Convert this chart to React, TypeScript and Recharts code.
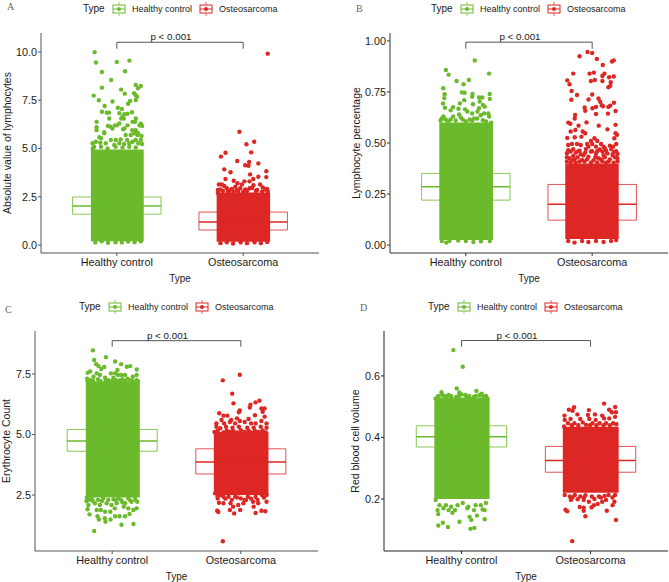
import { ScatterChart, Scatter, XAxis, YAxis, ReferenceArea, ReferenceLine } from "recharts";

const GREEN = "#6BBA2B";
const RED = "#DC2725";
const FONT = "'Liberation Sans', Arial, sans-serif";

const categories = ["Healthy control", "Osteosarcoma"];
const groupPositions = [1, 2];

// The middle of each cloud is too dense to read dot by dot, so it is a filled
// range [jitterLow, jitterHigh, valueLow, valueHigh]; the dots are those that can be told apart.
const healthyDenseA = [0.795, 1.213, 0.2, 4.95];
const sarcomaDenseA = [1.79, 2.213, 0.17, 2.72];
const healthyBoxA = [1.6, 2.02, 2.49];
const sarcomaBoxA = [0.78, 1.19, 1.71];
const healthyA = [
  [0.824, 9.98], [0.835, 9.45], [1.0, 9.48], [1.1, 9.55], [0.882, 8.96], [1.065, 9.0], [0.955, 8.55], [1.15, 8.29],
  [1.19, 8.24], [1.168, 8.12], [0.882, 8.15], [1.034, 8.05], [1.063, 7.84], [1.136, 7.86], [1.15, 7.76], [1.16, 7.68],
  [0.817, 7.74], [0.858, 7.5], [0.966, 7.43], [1.15, 7.51], [1.105, 7.46], [1.089, 7.32], [0.903, 7.2], [1.008, 7.11],
  [1.04, 7.05], [0.882, 6.9], [0.92, 6.85], [0.938, 6.86], [1.02, 6.83], [1.12, 6.88], [1.085, 6.8], [1.06, 6.78],
  [1.045, 6.65], [1.055, 6.55], [1.035, 6.55], [0.94, 6.55], [1.15, 6.55], [0.84, 6.38], [1.125, 6.38], [1.145, 6.38],
  [1.19, 6.28], [1.18, 6.2], [1.2, 6.17], [1.02, 6.3], [1.0, 6.2], [0.985, 6.2], [0.93, 6.17], [0.95, 6.13],
  [0.84, 6.1], [0.84, 5.95], [0.965, 6.03], [1.05, 6.0], [1.085, 6.2], [1.122, 5.95], [1.15, 5.95], [1.168, 5.79],
  [0.9, 5.84], [0.875, 5.53], [1.06, 6.04], [0.862, 5.58], [0.9, 5.79], [0.953, 5.44], [0.992, 5.44], [1.03, 5.47],
  [1.07, 5.7], [1.082, 5.44], [1.11, 5.7], [1.137, 5.79], [1.163, 5.7], [1.195, 5.65], [1.15, 5.44], [0.808, 5.27],
  [0.835, 5.35], [0.869, 5.3], [0.913, 5.27], [0.98, 5.18], [1.02, 5.27], [1.058, 5.23], [1.098, 5.27], [1.125, 5.35],
  [1.17, 5.27], [1.19, 5.44], [0.82, 5.09], [0.875, 5.09], [0.927, 5.0], [0.99, 5.09], [1.045, 5.05], [1.098, 5.09],
  [1.15, 5.05], [1.2, 5.23], [0.81, 5.0], [0.83, 0.14], [0.88, 0.2], [0.93, 0.12], [0.99, 0.15], [1.04, 0.14],
  [1.09, 0.18], [1.14, 0.15], [1.19, 0.2],
];
const sarcomaA = [
  [2.194, 9.91], [1.97, 5.87], [2.026, 5.22], [2.087, 5.35], [1.824, 4.58], [1.86, 4.78], [2.063, 4.8], [1.953, 4.35],
  [2.12, 4.23], [2.047, 4.3], [2.016, 4.13], [2.042, 4.11], [1.85, 3.92], [1.9, 3.77], [2.183, 3.82], [2.055, 3.66],
  [2.183, 3.52], [2.12, 3.54], [1.86, 3.42], [2.08, 3.42], [1.925, 3.33], [2.01, 3.3], [2.05, 3.3], [1.808, 3.14],
  [1.832, 3.14], [1.85, 3.06], [1.955, 3.2], [1.99, 3.14], [1.937, 3.02], [1.977, 2.94], [2.016, 2.88], [2.05, 2.94],
  [2.081, 3.1], [2.134, 3.14], [2.155, 2.99], [2.176, 2.88], [2.195, 2.76], [1.871, 2.94], [1.82, 2.88], [1.924, 2.76],
  [1.8, 2.7], [2.1, 2.8], [1.89, 2.8], [1.96, 2.78], [1.82, 0.1], [1.87, 0.15], [1.92, 0.08], [1.98, 0.14],
  [2.03, 0.1], [2.09, 0.15], [2.14, 0.1], [2.19, 0.16], [1.8, 2.85], [1.84, 2.8], [1.88, 2.78], [1.91, 2.9],
  [1.95, 2.85], [2.0, 2.75], [2.03, 2.8], [2.07, 2.95], [2.11, 2.85], [2.15, 2.78], [2.19, 2.9],
];

const healthyDenseB = [0.79, 1.215, 0.025, 0.6];
const sarcomaDenseB = [1.787, 2.21, 0.03, 0.4];
const healthyBoxB = [0.22, 0.286, 0.351];
const sarcomaBoxB = [0.122, 0.2, 0.297];
const healthyB = [
  [1.071, 0.904], [0.842, 0.858], [0.864, 0.835], [1.184, 0.84], [0.927, 0.804], [1.024, 0.809], [0.982, 0.788],
  [0.821, 0.768], [0.969, 0.748], [0.99, 0.746], [1.053, 0.74], [0.832, 0.739], [1.189, 0.74], [0.83, 0.72],
  [1.105, 0.723], [1.131, 0.723], [1.05, 0.727], [0.987, 0.71], [0.953, 0.694], [0.82, 0.694], [1.19, 0.716],
  [1.11, 0.703], [1.057, 0.69], [1.135, 0.686], [1.15, 0.678], [0.835, 0.673], [0.88, 0.66], [0.899, 0.675],
  [0.942, 0.668], [0.994, 0.665], [1.012, 0.654], [1.105, 0.67], [1.092, 0.654], [1.145, 0.645], [1.178, 0.645],
  [0.947, 0.64], [0.9, 0.63], [1.05, 0.645], [0.823, 0.63], [1.065, 0.62], [1.118, 0.636], [1.185, 0.63],
  [0.88, 0.615], [0.975, 0.615], [1.03, 0.615], [0.84, 0.615], [0.8, 0.61], [1.2, 0.6], [1.135, 0.612],
  [0.81, 0.02], [0.845, 0.012], [0.87, 0.02], [0.94, 0.022], [1.0, 0.02], [1.06, 0.015], [1.12, 0.018], [1.19, 0.02],
  [0.81, 0.62], [0.86, 0.605], [0.92, 0.61], [0.96, 0.625], [1.0, 0.605], [1.05, 0.61], [1.09, 0.62], [1.16, 0.605],
];
const sarcomaB = [
  [1.963, 0.946], [2.0, 0.941], [1.9, 0.925], [2.037, 0.912], [2.171, 0.905], [2.157, 0.899], [2.084, 0.882],
  [2.097, 0.84], [1.85, 0.84], [1.979, 0.84], [2.013, 0.845], [2.081, 0.828], [2.134, 0.822], [2.171, 0.826],
  [1.803, 0.807], [1.99, 0.804], [2.021, 0.809], [2.081, 0.804], [1.821, 0.788], [2.147, 0.798], [2.128, 0.773],
  [2.143, 0.78], [1.837, 0.755], [1.88, 0.735], [2.0, 0.738], [1.835, 0.712], [1.971, 0.713], [2.05, 0.718],
  [2.063, 0.702], [2.076, 0.685], [1.94, 0.674], [1.945, 0.658], [2.002, 0.67], [2.03, 0.677], [2.085, 0.68],
  [2.128, 0.677], [2.143, 0.683], [2.172, 0.697], [2.185, 0.657], [2.03, 0.642], [2.125, 0.644], [1.865, 0.637],
  [1.862, 0.62], [1.811, 0.6], [1.827, 0.594], [1.892, 0.585], [1.955, 0.601], [2.052, 0.585], [2.121, 0.567],
  [2.185, 0.589], [1.83, 0.556], [1.867, 0.564], [1.925, 0.556], [1.945, 0.548], [2.185, 0.548], [2.197, 0.54],
  [1.803, 0.525], [1.915, 0.531], [1.862, 0.528], [2.175, 0.523], [2.018, 0.523], [1.99, 0.51], [2.04, 0.51],
  [2.07, 0.495], [2.0, 0.495], [1.96, 0.495], [1.84, 0.495], [1.88, 0.495], [1.81, 0.49], [1.91, 0.49], [2.14, 0.487],
  [2.19, 0.495], [2.165, 0.482], [2.09, 0.482], [1.97, 0.482], [2.03, 0.482], [1.81, 0.465], [1.85, 0.47], [1.9, 0.462],
  [1.95, 0.47], [2.0, 0.46], [2.06, 0.468], [2.11, 0.462], [2.15, 0.47], [2.19, 0.46], [1.83, 0.458], [1.87, 0.453],
  [1.91, 0.445], [1.945, 0.453], [1.99, 0.458], [2.03, 0.446], [2.08, 0.458], [2.12, 0.449], [2.16, 0.441],
  [2.2, 0.446], [1.82, 0.425], [1.86, 0.42], [1.92, 0.417], [1.97, 0.433], [2.05, 0.425], [2.1, 0.43], [2.14, 0.42],
  [2.2, 0.425], [1.8, 0.409], [1.87, 0.403], [1.94, 0.409], [1.99, 0.403], [2.11, 0.403], [2.17, 0.403], [1.85, 0.436],
  [1.81, 0.02], [1.86, 0.012], [1.92, 0.02], [1.97, 0.015], [2.03, 0.02], [2.09, 0.015], [2.15, 0.02], [2.19, 0.025],
  [1.8, 0.43], [1.84, 0.415], [1.885, 0.43], [1.93, 0.44], [1.96, 0.42], [2.01, 0.415], [2.025, 0.43], [2.07, 0.42],
  [2.09, 0.44], [2.13, 0.41], [2.18, 0.43], [2.2, 0.41], [1.83, 0.405], [1.9, 0.41], [2.04, 0.405], [2.08, 0.41],
  [1.8, 0.45], [1.89, 0.46], [2.04, 0.46], [2.1, 0.475], [2.17, 0.455],
];

const healthyDenseC = [0.795, 1.215, 2.4, 7.2];
const sarcomaDenseC = [1.79, 2.215, 2.5, 5.1];
const healthyBoxC = [4.31, 4.73, 5.21];
const sarcomaBoxC = [3.37, 3.86, 4.41];
const healthyC = [
  [0.85, 8.48], [0.86, 8.08], [0.951, 8.2], [1.023, 8.02], [1.07, 7.91], [1.114, 7.8], [1.14, 7.83], [0.876, 7.91],
  [0.894, 7.83], [0.938, 7.79], [0.915, 7.71], [1.191, 7.69], [0.809, 7.55], [0.829, 7.61], [1.041, 7.67], [1.023, 7.53],
  [0.99, 7.53], [0.88, 7.53], [1.07, 7.46], [1.1, 7.46], [1.19, 7.46], [1.16, 7.39], [0.805, 7.31], [0.855, 7.39],
  [0.905, 7.46], [0.945, 7.35], [0.97, 7.25], [1.01, 7.35], [1.045, 7.46], [1.12, 7.31], [1.19, 7.25], [0.83, 7.25],
  [0.89, 7.29], [1.03, 7.25], [1.08, 7.29], [1.16, 7.2], [1.185, 7.15], [0.86, 1.01], [1.165, 1.3], [1.072, 1.27],
  [0.886, 1.62], [0.897, 1.49], [0.943, 1.54], [0.948, 1.4], [0.987, 1.49], [1.023, 1.62], [1.057, 1.62], [1.1, 1.62],
  [1.135, 1.72], [0.808, 1.91], [0.824, 1.7], [0.88, 1.88], [0.912, 1.88], [0.945, 1.81], [0.985, 1.81], [1.02, 1.95],
  [1.09, 2.02], [1.125, 1.95], [1.19, 1.95], [1.165, 1.88], [0.815, 2.09], [0.866, 2.16], [0.905, 2.09], [0.957, 2.16],
  [0.995, 2.09], [1.035, 2.16], [1.07, 2.29], [1.1, 2.16], [1.15, 2.22], [1.195, 2.22], [0.803, 2.4], [0.84, 2.36],
  [0.93, 2.36], [1.01, 2.32], [1.05, 2.36], [1.125, 2.36], [1.175, 2.43], [0.81, 7.2], [0.85, 7.22], [0.91, 7.2],
  [0.95, 7.25], [1.0, 7.22], [1.06, 7.24], [1.1, 7.22], [1.14, 7.25], [1.2, 7.2], [0.82, 2.3], [0.85, 2.25],
  [0.89, 2.3], [0.92, 2.25], [0.97, 2.3], [1.03, 2.28], [1.08, 2.2], [1.14, 2.28], [1.18, 2.3], [0.8, 2.25],
];
const sarcomaC = [
  [1.992, 7.47], [1.86, 7.24], [1.933, 6.69], [1.943, 6.29], [2.114, 6.33], [2.145, 6.4], [2.075, 6.23], [2.07, 6.12],
  [2.16, 6.08], [2.185, 6.08], [1.992, 6.0], [1.985, 5.92], [1.832, 5.88], [1.865, 5.78], [1.895, 5.78], [2.11, 5.8],
  [2.17, 5.94], [2.185, 5.74], [2.06, 5.64], [1.97, 5.67], [1.992, 5.56], [1.85, 5.6], [1.925, 5.6], [2.16, 5.56],
  [2.2, 5.46], [1.81, 5.46], [1.87, 5.46], [1.915, 5.52], [1.955, 5.46], [2.03, 5.52], [2.08, 5.46], [2.115, 5.46],
  [1.81, 5.32], [1.84, 5.26], [1.885, 5.32], [1.935, 5.28], [1.985, 5.32], [2.05, 5.28], [2.1, 5.28], [2.155, 5.32],
  [2.2, 5.28], [1.795, 5.11], [1.865, 5.09], [1.915, 5.11], [1.97, 5.09], [2.03, 5.11], [2.08, 5.09], [2.14, 5.11],
  [2.195, 5.09], [1.86, 0.59], [1.816, 1.85], [1.825, 1.8], [1.915, 1.88], [1.948, 1.74], [1.995, 1.88], [2.115, 1.76],
  [2.16, 1.85], [2.19, 1.83], [2.1, 2.02], [1.83, 2.18], [1.865, 2.16], [1.82, 2.36], [1.865, 2.43], [1.92, 2.16],
  [1.94, 2.02], [1.98, 2.09], [2.02, 2.16], [2.04, 2.29], [2.095, 2.22], [2.135, 2.16], [2.2, 2.22], [1.8, 2.57],
  [1.84, 2.5], [1.905, 2.43], [1.955, 2.43], [2.0, 2.36], [2.055, 2.43], [2.115, 2.43], [2.165, 2.5], [2.2, 2.5],
  [1.885, 2.58], [1.99, 2.57], [2.08, 2.58], [1.82, 5.15], [1.89, 5.17], [1.94, 5.15], [2.0, 5.18], [2.06, 5.17],
  [2.11, 5.15], [2.17, 5.17], [1.82, 2.45], [1.88, 2.35], [1.93, 2.3], [1.97, 2.4], [2.03, 2.3], [2.08, 2.35],
  [2.13, 2.3], [2.18, 2.4],
];

const healthyDenseD = [0.79, 1.218, 0.2, 0.53];
const sarcomaDenseD = [1.785, 2.218, 0.22, 0.435];
const healthyBoxD = [0.369, 0.402, 0.438];
const sarcomaBoxD = [0.287, 0.325, 0.371];
const healthyD = [
  [0.937, 0.684], [1.01, 0.63], [0.963, 0.559], [0.845, 0.547], [1.116, 0.551], [1.157, 0.542], [0.984, 0.546],
  [0.85, 0.538], [1.0, 0.54], [1.03, 0.538], [1.14, 0.538], [1.17, 0.532], [0.92, 0.534], [1.04, 0.532], [1.07, 0.526],
  [0.88, 0.532], [0.96, 0.532], [1.2, 0.527], [0.8, 0.527], [1.095, 0.532], [0.821, 0.114], [0.856, 0.123], [0.895, 0.109],
  [0.984, 0.126], [1.07, 0.103], [1.1, 0.106], [1.063, 0.142], [1.076, 0.132], [1.12, 0.146], [1.18, 0.134], [0.815, 0.164],
  [0.82, 0.151], [0.861, 0.17], [0.93, 0.155], [1.045, 0.17], [1.053, 0.175], [1.163, 0.166], [1.18, 0.164], [1.097, 0.164],
  [0.9, 0.164], [0.95, 0.164], [0.8, 0.197], [0.83, 0.18], [0.88, 0.18], [0.92, 0.175], [0.97, 0.18], [1.01, 0.187],
  [1.11, 0.18], [1.15, 0.18], [1.19, 0.187], [0.82, 0.535], [0.87, 0.535], [0.9, 0.538], [0.98, 0.535], [1.06, 0.535],
  [1.11, 0.535], [1.19, 0.535],
];
const sarcomaD = [
  [2.105, 0.51], [2.191, 0.499], [1.872, 0.498], [1.832, 0.49], [1.861, 0.487], [1.987, 0.489], [2.144, 0.49], [2.165, 0.482],
  [2.197, 0.482], [1.798, 0.471], [1.898, 0.475], [2.034, 0.475], [1.98, 0.473], [2.09, 0.471], [2.105, 0.462], [1.8, 0.457],
  [1.845, 0.46], [1.92, 0.46], [1.99, 0.46], [2.04, 0.457], [2.145, 0.462], [2.19, 0.467], [1.825, 0.446], [1.875, 0.446],
  [1.94, 0.449], [1.965, 0.441], [2.015, 0.446], [2.07, 0.446], [2.12, 0.446], [2.175, 0.446], [2.2, 0.443], [1.795, 0.436],
  [1.855, 0.44], [1.905, 0.44], [1.995, 0.44], [2.045, 0.44], [2.1, 0.44], [2.15, 0.44], [1.858, 0.063], [2.197, 0.132],
  [1.96, 0.144], [1.806, 0.165], [1.819, 0.16], [1.916, 0.174], [1.947, 0.172], [1.947, 0.162], [2.008, 0.173], [2.026, 0.18],
  [2.126, 0.162], [2.171, 0.18], [2.185, 0.191], [2.055, 0.184], [2.09, 0.191], [1.848, 0.197], [1.9, 0.199], [1.947, 0.197],
  [1.987, 0.191], [2.12, 0.197], [1.8, 0.213], [1.84, 0.208], [1.878, 0.213], [1.92, 0.208], [1.96, 0.212], [2.01, 0.208],
  [2.065, 0.208], [2.14, 0.213], [2.19, 0.213], [1.86, 0.205], [1.95, 0.205], [2.03, 0.2], [2.08, 0.205], [2.11, 0.21], [2.17, 0.205],
];

const BOX_HALF = 0.35;
const dot = (props: any) => <circle cx={props.cx} cy={props.cy} r={2.2} fill={props.fill} />;
const toPoints = (rows: number[][]) => rows.map(([x, y]) => ({ x, y }));

function LegendKey({ color }: { color: string }) {
  return (
    <svg width={14} height={14} style={{ display: "block" }}>
      <line x1={7} y1={0} x2={7} y2={14} stroke={color} strokeWidth={1} opacity={0.7} />
      <rect x={1} y={3} width={12} height={8} fill="#fff" stroke={color} strokeWidth={1} />
      <line x1={1} y1={7} x2={13} y2={7} stroke={color} strokeWidth={1} />
      <circle cx={7} cy={7} r={2} fill={color} />
    </svg>
  );
}

function TypeLegend({ left, top }: { left: number; top: number }) {
  const label = (x: number, size: number, text: string) => (
    <span style={{ position: "absolute", left: x, top: 0, fontSize: size, lineHeight: "14px", whiteSpace: "nowrap" }}>{text}</span>
  );
  return (
    <div style={{ position: "absolute", left, top, height: 14, fontFamily: FONT, color: "#222" }}>
      {label(0, 10, "Type")}
      <div style={{ position: "absolute", left: 29, top: 0 }}><LegendKey color={GREEN} /></div>
      {label(49, 9, categories[0])}
      <div style={{ position: "absolute", left: 116, top: 0 }}><LegendKey color={RED} /></div>
      {label(136, 9, categories[1])}
    </div>
  );
}

interface PanelProps {
  letter: string;
  letterPos: [number, number];
  legendPos: [number, number];
  left: number;
  top: number;
  width: number;
  height: number;
  axisLeft: number;
  plotTop: number;
  axisHeight: number;
  titleOffset: number;
  labelOffset: number;
  axisColor: string;
  yLabel: string;
  yDomain: number[];
  yTicks: number[];
  digits: number;
  bracket: number[];
  healthy: number[][];
  sarcoma: number[][];
  healthyDense: number[];
  sarcomaDense: number[];
  healthyBox: number[];
  sarcomaBox: number[];
}

function Panel(p: PanelProps) {
  const boxes = [
    { pos: groupPositions[0], box: p.healthyBox, color: GREEN },
    { pos: groupPositions[1], box: p.sarcomaBox, color: RED },
  ];
  const tickStyle = { fontSize: 10.8, fill: "#1a1a1a", fontFamily: FONT };
  return (
    <>
      <div style={{ position: "absolute", left: p.letterPos[0], top: p.letterPos[1], fontFamily: "'Liberation Serif', serif", fontSize: 10, lineHeight: "12px", color: "#666" }}>{p.letter}</div>
      <TypeLegend left={p.legendPos[0]} top={p.legendPos[1]} />
      <div style={{ position: "absolute", left: p.left, top: p.top }}>
        <ScatterChart width={p.width} height={p.height} margin={{ top: p.plotTop, right: 1, bottom: 0, left: 0 }}>
          <XAxis
            type="number"
            dataKey="x"
            domain={[0.4, 2.6]}
            ticks={groupPositions}
            tickFormatter={(v: number) => categories[v - 1]}
            height={p.axisHeight}
            tick={tickStyle}
            tickSize={3}
            tickMargin={2}
            stroke={p.axisColor}
            label={{ value: "Type", position: "insideBottom", offset: p.titleOffset, style: { fontSize: 10, fill: "#1a1a1a", fontFamily: FONT } }}
          />
          <YAxis
            type="number"
            dataKey="y"
            domain={p.yDomain}
            ticks={p.yTicks}
            allowDataOverflow
            tickFormatter={(v: number) => v.toFixed(p.digits)}
            width={p.axisLeft}
            tick={tickStyle}
            tickSize={3}
            tickMargin={1}
            stroke={p.axisColor}
            label={{ value: p.yLabel, angle: -90, position: "insideLeft", offset: p.labelOffset, style: { textAnchor: "middle", fontSize: 10.5, fill: "#1a1a1a", fontFamily: FONT } }}
          />
          {boxes.map(({ pos, box, color }) => (
            <ReferenceArea key={pos} x1={pos - BOX_HALF} x2={pos + BOX_HALF} y1={box[0]} y2={box[2]} fill="#fff" fillOpacity={0} stroke={color} strokeWidth={1} strokeOpacity={0.8} />
          ))}
          {boxes.map(({ pos, box, color }) => (
            <ReferenceLine key={pos} segment={[{ x: pos - BOX_HALF, y: box[1] }, { x: pos + BOX_HALF, y: box[1] }]} stroke={color} strokeWidth={1.5} />
          ))}
          <ReferenceArea x1={p.healthyDense[0]} x2={p.healthyDense[1]} y1={p.healthyDense[2]} y2={p.healthyDense[3]} fill={GREEN} fillOpacity={1} stroke="none" />
          <ReferenceArea x1={p.sarcomaDense[0]} x2={p.sarcomaDense[1]} y1={p.sarcomaDense[2]} y2={p.sarcomaDense[3]} fill={RED} fillOpacity={1} stroke="none" />
          <Scatter data={toPoints(p.healthy)} fill={GREEN} shape={dot} isAnimationActive={false} />
          <Scatter data={toPoints(p.sarcoma)} fill={RED} shape={dot} isAnimationActive={false} />
          <ReferenceLine
            segment={[{ x: groupPositions[0], y: p.bracket[0] }, { x: groupPositions[1], y: p.bracket[0] }]}
            stroke="#555"
            strokeWidth={1}
            label={(props: any) => (
              <text x={props.viewBox.x + props.viewBox.width / 2 - 9} y={props.viewBox.y - 2} textAnchor="middle" fontSize={9.8} fill="#1a1a1a" fontFamily={FONT}>p &lt; 0.001</text>
            )}
          />
          {groupPositions.map((pos) => (
            <ReferenceLine key={pos} segment={[{ x: pos, y: p.bracket[0] }, { x: pos, y: p.bracket[1] }]} stroke="#555" strokeWidth={1} />
          ))}
        </ScatterChart>
      </div>
    </>
  );
}

export default function App() {
  return (
    <div style={{ position: "absolute", left: 0, top: 0, width: 669, height: 582, background: "#fff", overflow: "hidden" }}>
      <Panel letter="A" letterPos={[7, 1]} legendPos={[83, 2]} left={0} top={0} width={320} height={291} axisLeft={41} plotTop={33} axisHeight={38} titleOffset={9} labelOffset={7} axisColor="#555"
        yLabel="Absolute value of lymphocytes" yDomain={[-0.41, 10.98]} yTicks={[0, 2.5, 5, 7.5, 10]} digits={1} bracket={[10.5, 10.17]}
        healthy={healthyA} sarcoma={sarcomaA} healthyDense={healthyDenseA} sarcomaDense={sarcomaDenseA} healthyBox={healthyBoxA} sarcomaBox={sarcomaBoxA} />
      <Panel letter="B" letterPos={[356, 3]} legendPos={[431, 2]} left={335} top={0} width={334} height={291} axisLeft={55} plotTop={33} axisHeight={38} titleOffset={9} labelOffset={21} axisColor="#333"
        yLabel="Lymphocyte percentage" yDomain={[-0.039, 1.039]} yTicks={[0, 0.25, 0.5, 0.75, 1]} digits={2} bracket={[0.994, 0.962]}
        healthy={healthyB} sarcoma={sarcomaB} healthyDense={healthyDenseB} sarcomaDense={sarcomaDenseB} healthyBox={healthyBoxB} sarcomaBox={sarcomaBoxB} />
      <Panel letter="C" letterPos={[5, 304]} legendPos={[79, 300]} left={0} top={295} width={319} height={287} axisLeft={35} plotTop={36} axisHeight={31} titleOffset={2} labelOffset={6} axisColor="#555"
        yLabel="Erythrocyte Count" yDomain={[0.186, 9.28]} yTicks={[2.5, 5, 7.5]} digits={1} bracket={[8.88, 8.63]}
        healthy={healthyC} sarcoma={sarcomaC} healthyDense={healthyDenseC} sarcomaDense={sarcomaDenseC} healthyBox={healthyBoxC} sarcomaBox={sarcomaBoxC} />
      <Panel letter="D" letterPos={[360, 302]} legendPos={[428, 300]} left={335} top={295} width={334} height={287} axisLeft={49} plotTop={36} axisHeight={31} titleOffset={2} labelOffset={20} axisColor="#222"
        yLabel="Red blood cell volume" yDomain={[0.031, 0.746]} yTicks={[0.2, 0.4, 0.6]} digits={1} bracket={[0.715, 0.695]}
        healthy={healthyD} sarcoma={sarcomaD} healthyDense={healthyDenseD} sarcomaDense={sarcomaDenseD} healthyBox={healthyBoxD} sarcomaBox={sarcomaBoxD} />
    </div>
  );
}
